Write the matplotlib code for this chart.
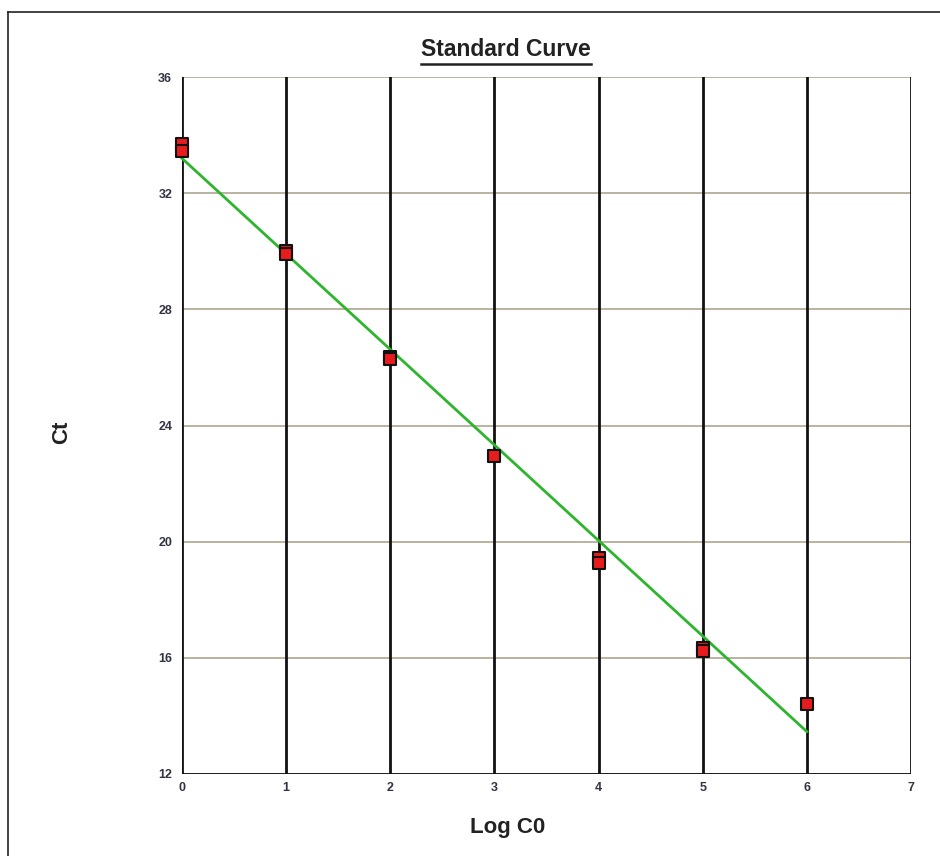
import matplotlib
matplotlib.use("Agg")
import matplotlib.pyplot as plt
from matplotlib.lines import Line2D
import numpy as np

plt.rcParams['font.family'] = ['Liberation Sans', 'DejaVu Sans']

# Data
log_c0 = [0, 0, 1, 1, 2, 2, 3, 4, 4, 5, 5, 6]
ct = [33.7, 33.45, 30.0, 29.9, 26.35, 26.3, 22.95, 19.45, 19.25, 16.35, 16.25, 14.4]
fit_intercept = 33.2
fit_slope = -3.29
fit_x = [0, 6]
x_ticks = [0, 1, 2, 3, 4, 5, 6, 7]
y_ticks = [12, 16, 20, 24, 28, 32, 36]

fig = plt.figure(figsize=(9.4, 8.56), dpi=100)
ax = fig.add_axes([0.1936, 0.0958, 0.9691 - 0.1936, 0.910 - 0.0958])

ax.set_xlim(0, 7)
ax.set_ylim(12, 36)
ax.set_xticks(x_ticks)
ax.set_yticks(y_ticks)
ax.tick_params(axis='y', length=0, labelsize=9, labelcolor='#333344', pad=7)
ax.tick_params(axis='x', length=0, labelsize=9, labelcolor='#333344', pad=6)
for lab in ax.get_xticklabels() + ax.get_yticklabels():
    lab.set_fontweight('bold')

# grid
for y in y_ticks:
    ax.axhline(y, color='#b5ad9a', lw=1.3, zorder=1)
for x in x_ticks:
    ax.axvline(x, color='#111111', lw=2.0, zorder=2)
ax.axhline(12, color='#111111', lw=2.0, zorder=2)
for s in ax.spines.values():
    s.set_visible(False)

fx = np.array(fit_x, dtype=float)
ax.plot(fx, fit_intercept + fit_slope * fx, color='#2db52d', lw=2.0, zorder=4, clip_on=False)
ax.scatter(log_c0, ct, marker='s', s=80, facecolor='#e81c1c', edgecolor='#111111',
           linewidths=1.5, zorder=5, clip_on=False)

fig.text(508 / 940, 1 - 828 / 856, 'Log C0', fontsize=16, fontweight='bold', ha='center',
         va='center', color='#222222')
fig.text(62 / 940, 1 - 432 / 856, 'Ct', fontsize=16, fontweight='bold', ha='center',
         va='center', rotation=90, color='#222222')

t = fig.text(506 / 940, 1 - 50 / 856, 'Standard Curve', fontsize=16.5, fontweight='bold',
             ha='center', va='center', color='#222222')

# figure border (left and top)
fig.add_artist(Line2D([8 / 940, 8 / 940], [0, 1 - 12 / 856], transform=fig.transFigure,
                      color='#222222', lw=1.2))
fig.add_artist(Line2D([8 / 940, 1], [1 - 12 / 856, 1 - 12 / 856], transform=fig.transFigure,
                      color='#222222', lw=1.2))

fig.canvas.draw()
bb = t.get_window_extent()
W, H = fig.bbox.width, fig.bbox.height
yu = (bb.y0 - 2) / H
fig.add_artist(Line2D([bb.x0 / W, bb.x1 / W], [yu, yu], transform=fig.transFigure,
                      color='#222222', lw=1.8))

fig.savefig('out.png', dpi=100, facecolor='white')
